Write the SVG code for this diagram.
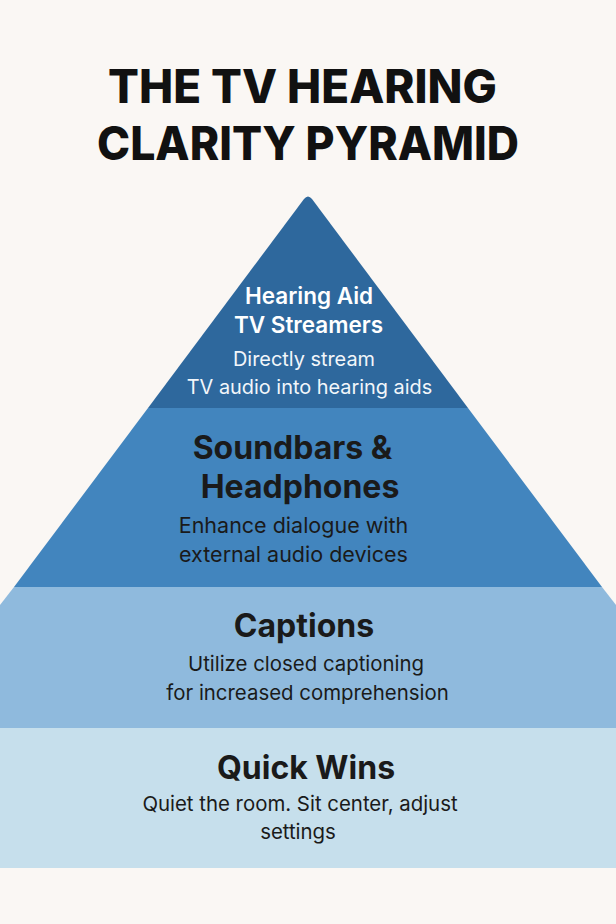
<svg xmlns="http://www.w3.org/2000/svg" width="616" height="924" viewBox="0 0 616 924">
<style>
.title{font-family:Inter,"Liberation Sans",sans-serif;font-weight:800;font-size:46px;fill:#111;text-anchor:middle}
.h{font-family:Inter,"Liberation Sans",sans-serif;font-weight:700;font-size:32px;fill:#1a1a1a;text-anchor:middle}
.hw{font-family:Inter,"Liberation Sans",sans-serif;font-weight:600;font-size:22.5px;fill:#fff;text-anchor:middle}
.s{font-family:Inter,"Liberation Sans",sans-serif;font-weight:400;font-size:20.4px;fill:#1a1a1a;text-anchor:middle}
.s2{font-family:Inter,"Liberation Sans",sans-serif;font-weight:400;font-size:21.5px;fill:#1a1a1a;text-anchor:middle}
.sw{font-family:Inter,"Liberation Sans",sans-serif;font-weight:400;font-size:19.9px;fill:#f2f6fa;text-anchor:middle}
</style>
<rect width="616" height="924" fill="#FAF7F4"/>
<g id="title">
<text class="title" x="302.5" y="103" textLength="389" lengthAdjust="spacingAndGlyphs">THE TV HEARING</text>
<text class="title" x="308" y="160" textLength="422" lengthAdjust="spacingAndGlyphs">CLARITY PYRAMID</text>
</g>
<g id="quick-wins">
<rect x="0" y="728" width="616" height="140" fill="#C6DFEC"/>
<text class="h" x="306" y="779">Quick Wins</text>
<text class="s" x="300" y="811">Quiet the room. Sit center, adjust</text>
<text class="s" x="298" y="839">settings</text>
</g>
<g id="captions">
<polygon points="14,587 602,587 616,605 616,728 0,728 0,605" fill="#8FBADD"/>
<text class="h" x="304" y="637">Captions</text>
<text class="s" x="306" y="671">Utilize closed captioning</text>
<text class="s" x="307.5" y="700">for increased comprehension</text>
</g>
<g id="soundbars">
<polygon points="148,408 468,408 602,587 14,587" fill="#4285BE"/>
<text class="h" x="292.5" y="459">Soundbars &amp;</text>
<text class="h" x="300" y="498">Headphones</text>
<text class="s2" x="293.5" y="533">Enhance dialogue with</text>
<text class="s2" x="293.5" y="562">external audio devices</text>
</g>
<g id="streamers">
<path d="M148,408 L304,199 Q308,194 312,199 L468,408 Z" fill="#2E689D"/>
<text class="hw" x="309" y="304">Hearing Aid</text>
<text class="hw" x="308.5" y="333">TV Streamers</text>
<text class="sw" x="304" y="366">Directly stream</text>
<text class="sw" x="309.5" y="394">TV audio into hearing aids</text>
</g>
</svg>
